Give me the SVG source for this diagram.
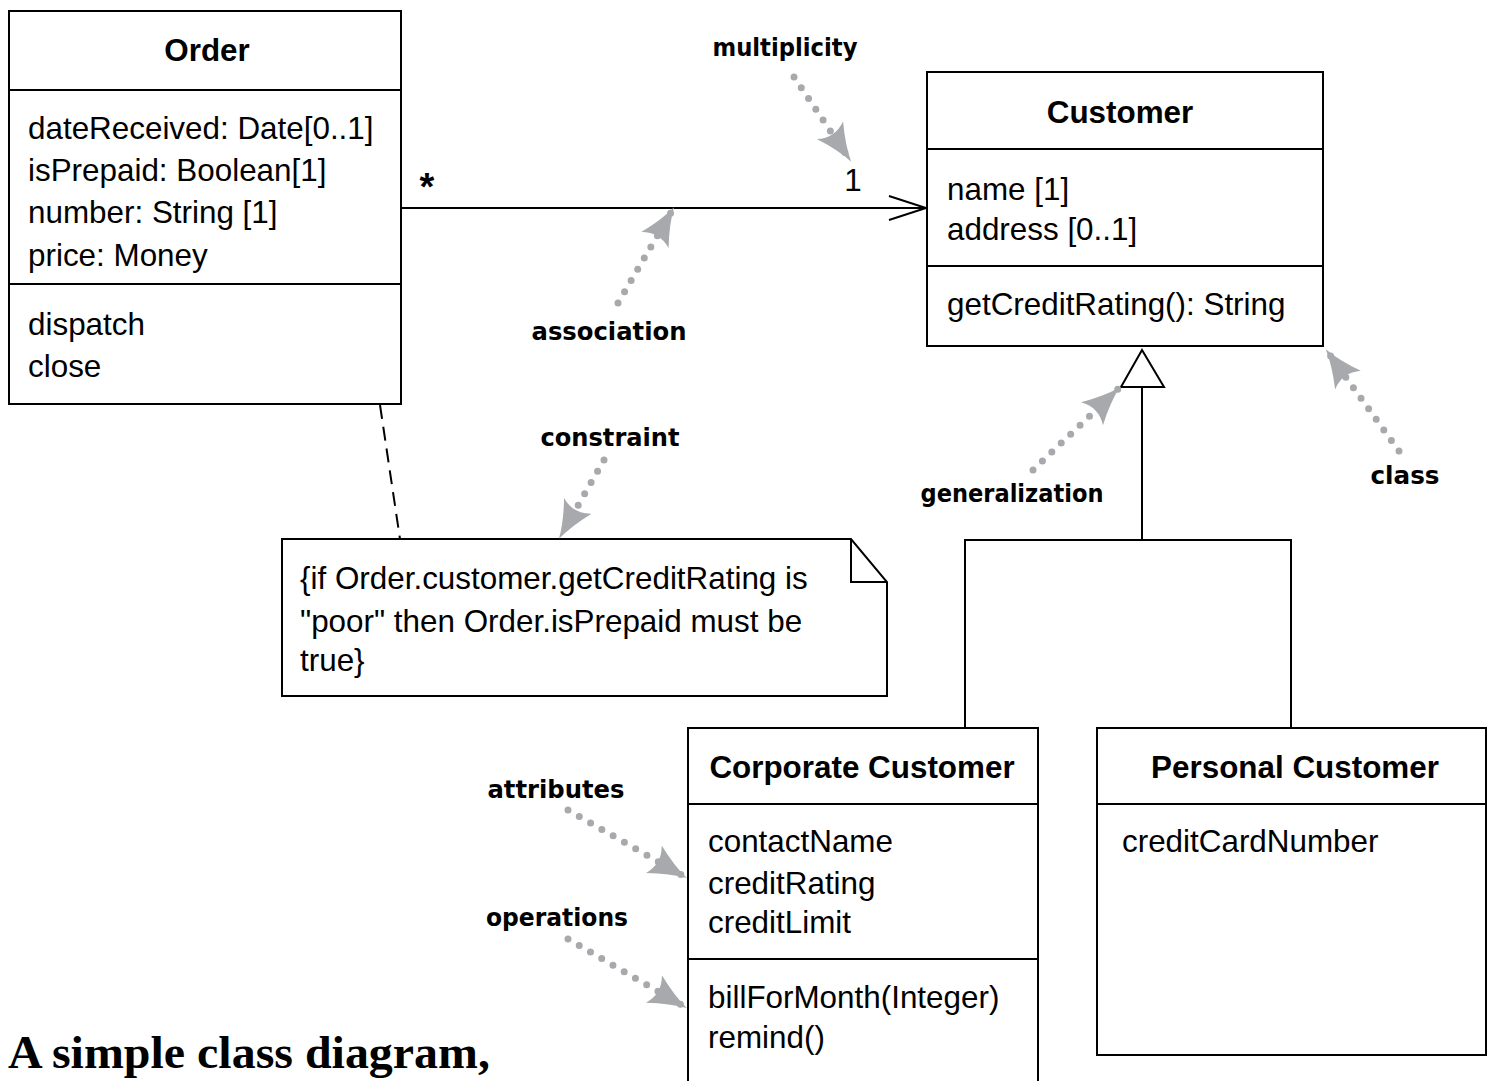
<svg xmlns="http://www.w3.org/2000/svg" width="1489" height="1081" viewBox="0 0 1489 1081">
<defs>
<style>
.box{fill:#fff;stroke:#000;stroke-width:2}
.ln{stroke:#000;stroke-width:2;fill:none}
.t{font-family:"Liberation Sans",Arial,Helvetica,sans-serif;font-size:31.4px;fill:#000}
.h{font-family:"Liberation Sans",Arial,Helvetica,sans-serif;font-size:31.4px;font-weight:bold;fill:#000;text-anchor:middle}
.ann{font-family:"DejaVu Sans","Open Sans",sans-serif;font-size:24px;font-weight:bold;fill:#000;text-anchor:middle}
.dot{stroke:#a7a9ac;stroke-width:7;stroke-linecap:round;stroke-dasharray:0 13;fill:none;marker-end:url(#ga)}
</style>
<marker id="ga" viewBox="0 0 36 32" refX="34" refY="16" markerWidth="38" markerHeight="34" markerUnits="userSpaceOnUse" orient="auto">
<path d="M0,1 Q20,12 36,16 Q20,20 0,31 Q9,16 0,1 Z" fill="#a7a9ac"/>
</marker>
</defs>
<rect width="1489" height="1081" fill="#fff"/>

<g id="connectors">
<line class="ln" x1="401" y1="208" x2="926" y2="208"/>
<polyline class="ln" points="889,196 926,208 889,220"/>
<text x="427" y="200" class="h" style="font-size:38px">*</text>
<text x="853" y="191" class="t" text-anchor="middle">1</text>
<line class="ln" x1="380" y1="405" x2="400" y2="539" stroke-dasharray="14 8"/>
<polygon points="1142,350 1121,387 1164,387" fill="#fff" stroke="#000" stroke-width="2"/>
<polyline class="ln" points="1142,387 1142,540"/>
<polyline class="ln" points="965,728 965,540 1291,540 1291,728"/>
</g>

<g id="order">
<rect class="box" x="9" y="11" width="392" height="393"/>
<line class="ln" x1="9" y1="90" x2="401" y2="90"/>
<line class="ln" x1="9" y1="284" x2="401" y2="284"/>
<text class="h" x="207" y="61">Order</text>
<text class="t" x="28" y="139">dateReceived: Date[0..1]</text>
<text class="t" x="28" y="181">isPrepaid: Boolean[1]</text>
<text class="t" x="28" y="223">number: String [1]</text>
<text class="t" x="28" y="266">price: Money</text>
<text class="t" x="28" y="335">dispatch</text>
<text class="t" x="28" y="377">close</text>
</g>

<g id="customer">
<rect class="box" x="927" y="72" width="396" height="274"/>
<line class="ln" x1="927" y1="149" x2="1323" y2="149"/>
<line class="ln" x1="927" y1="266" x2="1323" y2="266"/>
<text class="h" x="1120" y="123">Customer</text>
<text class="t" x="947" y="200">name [1]</text>
<text class="t" x="947" y="240">address [0..1]</text>
<text class="t" x="947" y="315">getCreditRating(): String</text>
</g>

<g id="note">
<path class="box" d="M282,539 L851,539 L887,582 L887,696 L282,696 Z"/>
<polyline class="ln" points="851,539 851,582 887,582"/>
<text class="t" x="300" y="589">{if Order.customer.getCreditRating is</text>
<text class="t" x="300" y="632">"poor" then Order.isPrepaid must be</text>
<text class="t" x="300" y="671">true}</text>
</g>

<g id="corporate">
<path class="box" d="M688,1085 L688,728 L1038,728 L1038,1085"/>
<line class="ln" x1="688" y1="804" x2="1038" y2="804"/>
<line class="ln" x1="688" y1="959" x2="1038" y2="959"/>
<text class="h" x="862" y="778">Corporate Customer</text>
<text class="t" x="708" y="852">contactName</text>
<text class="t" x="708" y="894">creditRating</text>
<text class="t" x="708" y="933">creditLimit</text>
<text class="t" x="708" y="1008">billForMonth(Integer)</text>
<text class="t" x="708" y="1048">remind()</text>
</g>

<g id="personal">
<rect class="box" x="1097" y="728" width="389" height="327"/>
<line class="ln" x1="1097" y1="804" x2="1486" y2="804"/>
<text class="h" x="1295" y="778">Personal Customer</text>
<text class="t" x="1122" y="852">creditCardNumber</text>
</g>

<g id="annotations">
<text class="ann" x="785" y="56" textLength="145" lengthAdjust="spacingAndGlyphs">multiplicity</text>
<path class="dot" d="M794,77 L850,160"/>
<text class="ann" x="609" y="340" textLength="155" lengthAdjust="spacingAndGlyphs">association</text>
<path class="dot" d="M618,303 L673,209"/>
<text class="ann" x="610" y="446" textLength="139" lengthAdjust="spacingAndGlyphs">constraint</text>
<path class="dot" d="M604,460 L560,537"/>
<text class="ann" x="1012" y="502" textLength="183" lengthAdjust="spacingAndGlyphs">generalization</text>
<path class="dot" d="M1033,470 L1118,389"/>
<text class="ann" x="1405" y="484" textLength="69" lengthAdjust="spacingAndGlyphs">class</text>
<path class="dot" d="M1399,451 L1327,351"/>
<text class="ann" x="556" y="798" textLength="137" lengthAdjust="spacingAndGlyphs">attributes</text>
<path class="dot" d="M568,810 L685,877"/>
<text class="ann" x="557" y="926" textLength="142" lengthAdjust="spacingAndGlyphs">operations</text>
<path class="dot" d="M568,939 L685,1007"/>
</g>

<text x="8" y="1068" textLength="482" lengthAdjust="spacingAndGlyphs" style="font-family:'Liberation Serif','Times New Roman',serif;font-size:47px;font-weight:bold">A simple class diagram,</text>
</svg>
